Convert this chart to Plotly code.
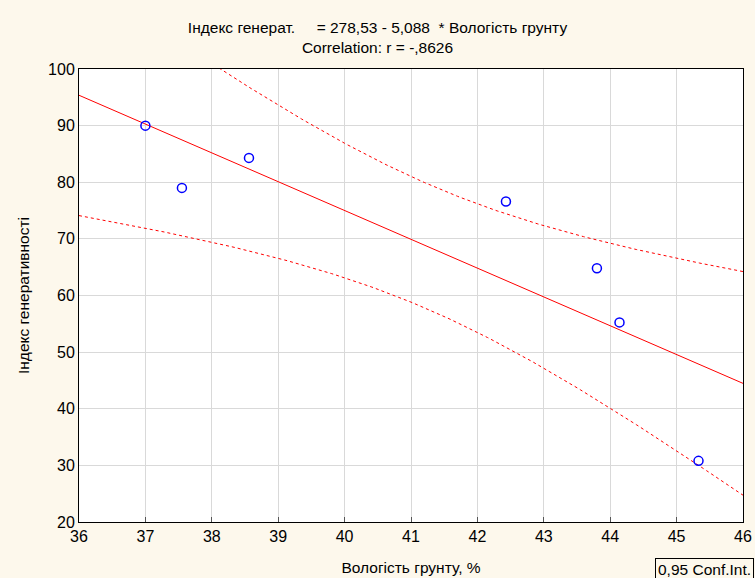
import numpy as np
import plotly.graph_objects as go

# Soil moisture (%) and generative index observations
moisture = [37.0, 37.55, 38.56, 42.43, 43.80, 44.14, 45.33]
gen_index = [90.0, 79.0, 84.3, 76.6, 64.8, 55.25, 30.8]

# Regression coefficients as reported in the title
intercept = 278.53
slope = -5.088
t_crit = 2.5706  # Student t, 0.975 quantile, df = 5

x_ticks = [36, 37, 38, 39, 40, 41, 42, 43, 44, 45, 46]
y_ticks = [20, 30, 40, 50, 60, 70, 80, 90, 100]

x = np.array(moisture)
y = np.array(gen_index)
n = len(x)
resid = y - (intercept + slope * x)
s = np.sqrt(np.sum(resid ** 2) / (n - 2))
sxx = np.sum((x - x.mean()) ** 2)

xs = np.linspace(36, 46, 201)
fit = intercept + slope * xs
half = t_crit * s * np.sqrt(1.0 / n + (xs - x.mean()) ** 2 / sxx)

red = "#ff0000"
fig = go.Figure()
fig.add_trace(go.Scatter(x=xs, y=fit, mode="lines",
                         line=dict(color=red, width=1), hoverinfo="skip"))
fig.add_trace(go.Scatter(x=xs, y=fit + half, mode="lines",
                         line=dict(color=red, width=1, dash="dot"), hoverinfo="skip"))
fig.add_trace(go.Scatter(x=xs, y=fit - half, mode="lines",
                         line=dict(color=red, width=1, dash="dot"), hoverinfo="skip"))
fig.add_trace(go.Scatter(x=moisture, y=gen_index, mode="markers",
                         marker=dict(symbol="circle-open", size=9,
                                     color="#0000ff", line=dict(width=1.5, color="#0000ff"))))

fam = "Liberation Sans, Arial, sans-serif"
font = dict(family=fam, size=15.5, color="#000000")
tick_font = dict(family=fam, size=16, color="#000000")
axis_common = dict(showgrid=True, gridcolor="#d9d9d9", gridwidth=1,
                   showline=True, linecolor="#000000", linewidth=1, mirror=True,
                   zeroline=False, tickfont=tick_font, automargin=False)

bg = "#fdf8ec"
fig.update_layout(
    width=755, height=578,
    paper_bgcolor=bg, plot_bgcolor="#ffffff",
    showlegend=False,
    margin=dict(l=79, r=12, t=69, b=56),
    font=font,
    title=dict(text="Індекс генерат.     = 278,53 - 5,088  * Вологість грунту<br>Correlation: r = -,8626",
               x=0.5, xanchor="center", xref="container", y=1 - 33 / 578, yanchor="top",
               yref="container", font=font),
    xaxis=dict(range=[36, 46], tickvals=x_ticks, ticktext=[str(v) for v in x_ticks],
               ticks="inside", ticklen=5, tickcolor="#555555",
               title=dict(text="Вологість грунту, %", standoff=17, font=font), **axis_common),
    yaxis=dict(range=[20, 100], tickvals=y_ticks, ticktext=[str(v) for v in y_ticks],
               ticks="", title=dict(text="Індекс генеративності", standoff=14, font=font),
               **axis_common),
    annotations=[dict(text="0,95 Conf.Int.", xref="paper", yref="paper",
                      x=(655 - 79) / 664, y=(522 - 558) / 453, xanchor="left", yanchor="top",
                      showarrow=False, bordercolor="#000000", borderwidth=1,
                      borderpad=2, bgcolor=bg, font=font)],
)

fig.write_html("out.html")
